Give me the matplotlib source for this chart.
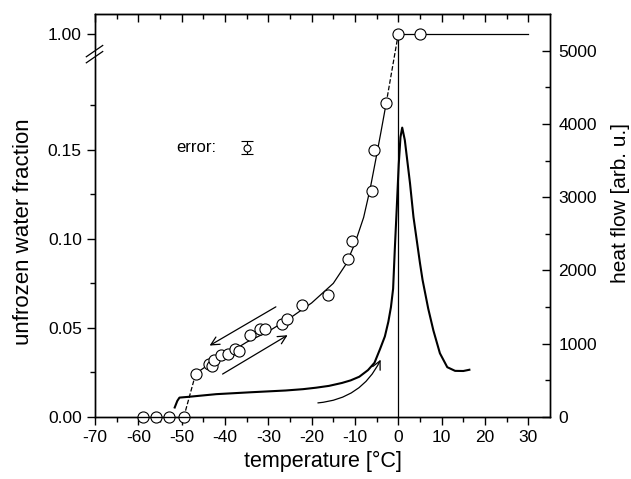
import numpy as np
import matplotlib
matplotlib.use('Agg')
import matplotlib.pyplot as plt
from matplotlib.patches import FancyArrowPatch

plt.rcParams['font.family'] = ['Liberation Sans', 'DejaVu Sans']

# unfrozen water fraction (open circles)
temp_frozen = [-59.0, -55.9, -52.9, -49.5]
frac_frozen = [0.0, 0.0, 0.0, 0.0]
temp_unfrozen = [-46.8, -43.8, -42.9, -42.5, -40.9, -39.4, -37.8, -36.7, -34.2,
                 -31.9, -30.8, -26.9, -25.8, -22.2, -16.2, -11.5, -10.6, -6.1,
                 -5.6, -2.8]
frac_unfrozen = [0.0239, 0.0300, 0.0287, 0.0319, 0.0347, 0.0352, 0.0380, 0.0369,
                 0.0459, 0.0496, 0.0496, 0.0524, 0.0552, 0.0630, 0.0683, 0.0888,
                 0.0985, 0.1270, 0.1500, 0.1760]
temp_melted = [0.0, 5.0]
frac_melted = [1.0, 1.0]

# guide line through the circles
temp_fit = [-47.0, -44.0, -40.0, -35.0, -30.0, -25.0, -20.0, -15.0, -12.0,
            -10.0, -8.0, -6.5, -5.0, -4.0, -2.8]
frac_fit = [0.0240, 0.0290, 0.0345, 0.0420, 0.0480, 0.0555, 0.0640, 0.0750,
            0.0860, 0.0975, 0.1120, 0.1280, 0.1470, 0.1600, 0.1760]

# heat flow (DSC curve)
temp_dsc = [-51.6, -51.0, -50.5, -48.5, -45.0, -42.0, -38.0, -34.0, -30.0, -26.0,
            -22.0, -19.0, -16.0, -13.0, -11.0, -9.0, -7.0, -5.5, -4.2, -3.1,
            -2.3, -1.7, -1.2, -0.8, -0.4, 0.1, 0.5, 0.9, 1.5, 2.7,
            3.5, 5.0, 5.6, 6.9, 8.1, 9.6, 11.3, 13.1, 15.0, 16.4]
heat_dsc = [130, 220, 265, 275, 295, 312, 325, 338, 350, 362,
            380, 400, 425, 465, 500, 550, 640, 740, 930, 1100,
            1300, 1500, 1750, 2300, 2800, 3450, 3820, 3950, 3780, 3190,
            2730, 2100, 1870, 1480, 1180, 870, 680, 630, 628, 645]

x_ticks = list(range(-70, 31, 10))
y_ticks = [0.00, 0.05, 0.10, 0.15, 1.00]
y_minor = [0.025, 0.075, 0.125, 0.175]
h_ticks = [0, 1000, 2000, 3000, 4000, 5000]

# broken left axis: 1.00 is squeezed right above 0.2
shift = 0.785
def fwd(y):
    y = np.asarray(y, dtype=float)
    return np.where(y < 0.5, y, y - shift)
def inv(v):
    v = np.asarray(v, dtype=float)
    return np.where(v < 0.205, v, v + shift)

fig = plt.figure(figsize=(6.31, 4.79), dpi=100)
ax = fig.add_axes([0.1505, 0.1294, 0.7211, 0.8413])
ax.set_yscale('function', functions=(fwd, inv))

ax.plot(temp_fit, frac_fit, '-', color='k', lw=0.9, zorder=2)
ax.plot([temp_frozen[-1], temp_unfrozen[0]], [0.0, frac_unfrozen[0]], '--',
        color='k', lw=0.9, zorder=2)
ax.plot([temp_unfrozen[-1], 0.0], [frac_unfrozen[-1], 1.0], '--', color='k',
        lw=0.9, zorder=2)
ax.plot([0, 30], [1.0, 1.0], '-', color='k', lw=0.9, zorder=2)
ax.plot([0, 0], [0.0, 1.0], '-', color='k', lw=0.9, zorder=2)

mk = dict(ls='none', marker='o', ms=8, mfc='white', mec='k', mew=0.8,
          zorder=5, clip_on=False)
ax.plot(temp_frozen, frac_frozen, **mk)
ax.plot(temp_unfrozen, frac_unfrozen, **mk)
ax.plot(temp_melted, frac_melted, **mk)

# error sample
ax.text(-42.0, 0.1512, 'error:', ha='right', va='center', fontsize=12)
ax.errorbar([-35.0], [0.1512], yerr=[0.0034], fmt='o', ms=5, mfc='white',
            mec='k', mew=0.8, ecolor='k', elinewidth=0.8, capsize=4.5,
            capthick=0.8)

# arrows
arr = dict(arrowstyle='->', mutation_scale=15, color='k', lw=0.9)
ax.add_patch(FancyArrowPatch((-27.7, 0.0626), (-44.1, 0.0393), **arr))
ax.add_patch(FancyArrowPatch((-41.1, 0.0233), (-25.0, 0.0467), **arr))
ax.add_patch(FancyArrowPatch((-19.2, 0.0078), (-3.8, 0.0336),
                             connectionstyle='arc3,rad=0.3', **arr))

ax.set_xlim(-70, 35)
ax.set_ylim(0, 1.0111)
ax.set_xticks(x_ticks)
ax.set_xticks(np.arange(-65, 35, 10), minor=True)
ax.set_yticks(y_ticks)
ax.set_yticks(y_minor, minor=True)
ax.set_yticklabels(['%.2f' % v for v in y_ticks])
ax.set_xticklabels(['%d' % v for v in x_ticks])
ax.tick_params(axis='both', which='major', direction='out', length=6,
               width=1, labelsize=12.5, right=False)
ax.tick_params(axis='both', which='minor', direction='out', length=3.5,
               width=1, right=False)
ax.set_xlabel('temperature [°C]', fontsize=15.5)
ax.set_ylabel('unfrozen water fraction', fontsize=16, labelpad=9)
ax.yaxis.set_label_coords(-0.135, 0.46)

top = ax.secondary_xaxis('top')
top.set_xticks(x_ticks)
top.set_xticks(np.arange(-65, 35, 10), minor=True)
top.tick_params(which='major', direction='in', length=6, width=1,
                labeltop=False)
top.tick_params(which='minor', direction='in', length=3.5, width=1)

# axis break on left spine
bx = [-0.019, 0.017]
for c in (0.893, 0.908):
    ax.plot(bx, [c - 0.014, c + 0.014], color='k', lw=0.9,
            transform=ax.transAxes, clip_on=False, zorder=6)
ax.plot([0, 0], [0.893, 0.908], color='white', lw=2.5,
        transform=ax.transAxes, clip_on=False, zorder=5)

ax2 = ax.twinx()
ax2.plot(temp_dsc, heat_dsc, '-', color='k', lw=1.5)
ax2.set_ylim(0, 5500)
ax2.set_yticks(h_ticks)
ax2.set_yticks(np.arange(500, 5500, 1000), minor=True)
ax2.tick_params(which='major', direction='in', length=6, width=1,
                labelsize=12.5, pad=6)
ax2.tick_params(which='minor', direction='in', length=3.5, width=1)
ax2.set_ylabel('heat flow [arb. u.]', fontsize=15)
ax2.yaxis.set_label_coords(1.134, 0.53)

for a in (ax, ax2):
    for s in a.spines.values():
        s.set_linewidth(1.0)

fig.savefig('out.png', dpi=100)
